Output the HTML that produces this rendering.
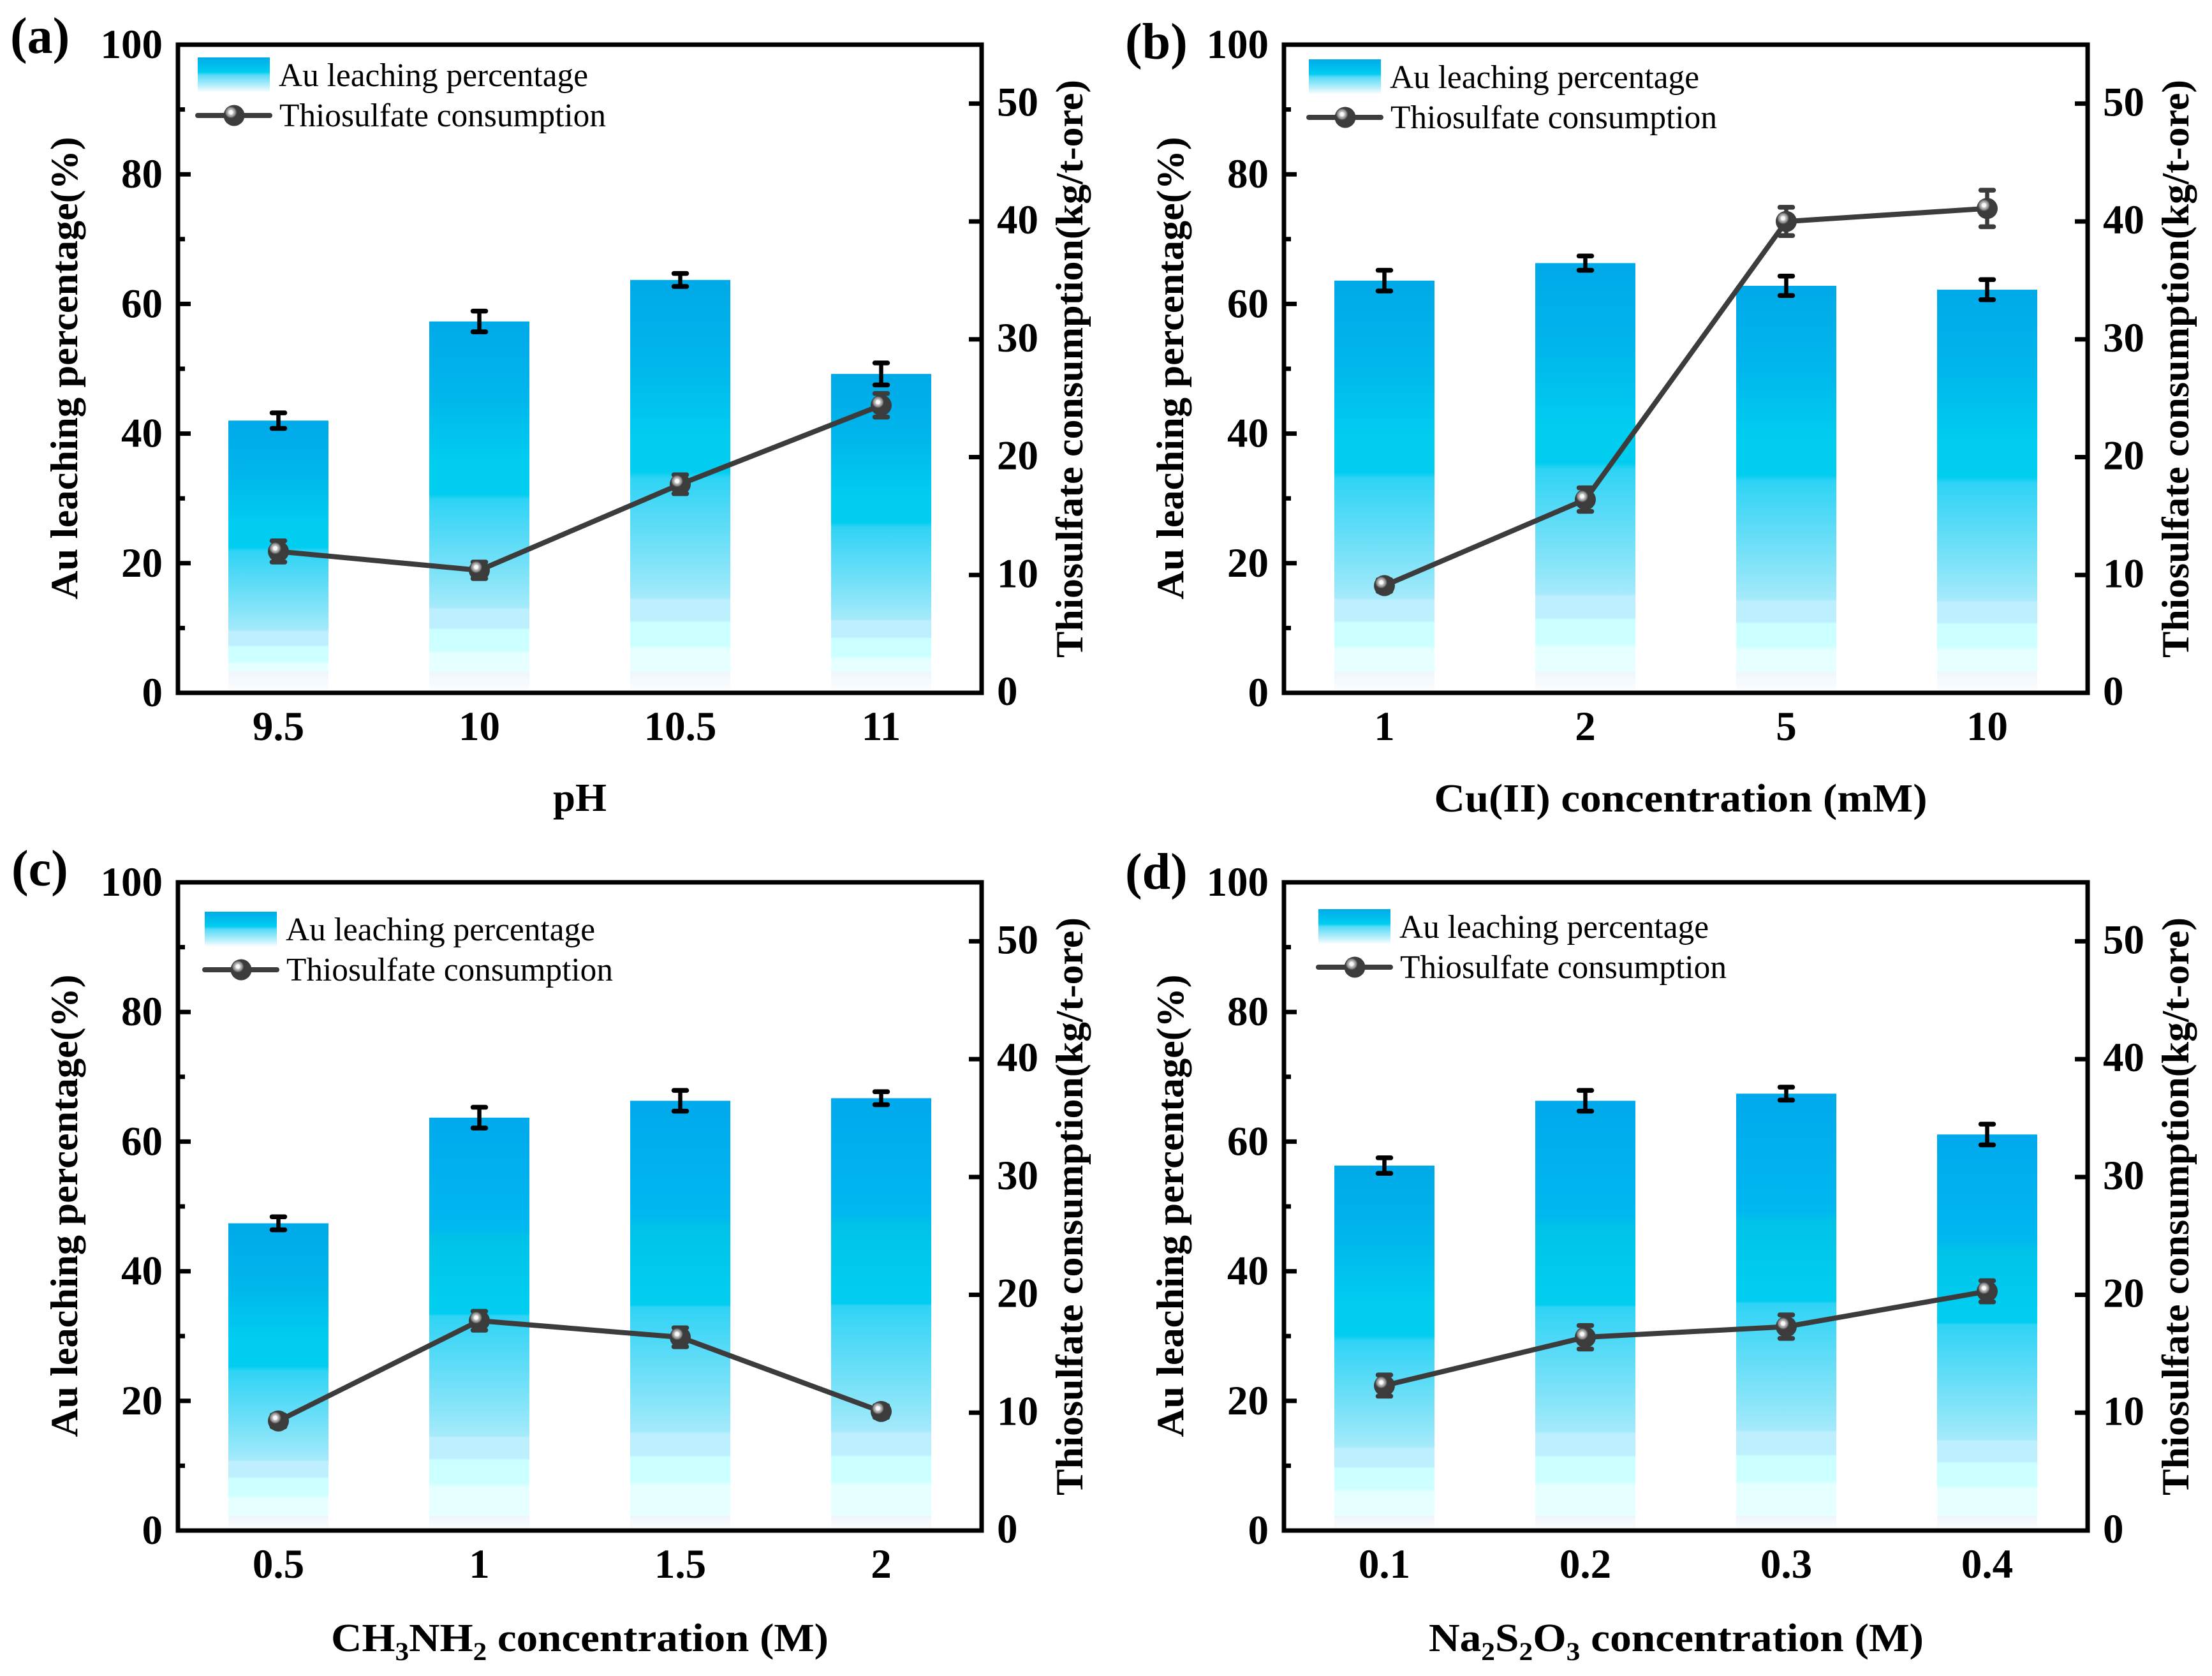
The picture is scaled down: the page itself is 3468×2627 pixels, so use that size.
<!DOCTYPE html>
<html lang="en">
<head>
<meta charset="utf-8">
<title>Au leaching and thiosulfate consumption</title>
<style>
html,body{margin:0;padding:0;background:#fff;}
body{width:3468px;height:2627px;overflow:hidden;}
svg{display:block;}
text{font-family:"Liberation Serif",serif;fill:#000;}
.b{font-weight:bold;}
</style>
</head>
<body>
<svg id="figure" xmlns="http://www.w3.org/2000/svg" width="3468" height="2627" viewBox="0 0 3468 2627">
<defs id="defs">
<linearGradient id="swatchGrad" x1="0" y1="0" x2="0" y2="1">
<stop offset="0" stop-color="#00ABE9"/><stop offset="0.42" stop-color="#00CDF0"/><stop offset="0.5" stop-color="#55DAF6"/><stop offset="0.8" stop-color="#B5EEFB"/><stop offset="1" stop-color="#FFFFFF"/>
</linearGradient>
<radialGradient id="markerGlow" cx="0.5" cy="0.5" r="0.5">
<stop offset="0" stop-color="#FFFFFF"/><stop offset="0.35" stop-color="#F0F0F0"/><stop offset="0.45" stop-color="#BDBDBD"/><stop offset="0.7" stop-color="#999999"/><stop offset="1" stop-color="#3C3C3C"/>
</radialGradient>
</defs>
</svg>
<script>
// Panel (a)
const phCategories = ['9.5', '10', '10.5', '11'];
const phLeaching = [42.0, 57.3, 63.7, 49.2];
const phLeachingErr = [1.2, 1.6, 1.0, 1.7];
const phConsumption = [12.0, 10.4, 17.7, 24.4];
const phConsumptionErr = [0.9, 0.7, 0.8, 1.0];
// Panel (b)
const cuCategories = ['1', '2', '5', '10'];
const cuLeaching = [63.6, 66.3, 62.8, 62.2];
const cuLeachingErr = [1.6, 1.1, 1.5, 1.55];
const cuConsumption = [9.1, 16.4, 40.0, 41.1];
const cuConsumptionErr = [0.5, 1.0, 1.2, 1.55];
// Panel (c)
const amineCategories = ['0.5', '1', '1.5', '2'];
const amineLeaching = [47.4, 63.7, 66.3, 66.7];
const amineLeachingErr = [1.0, 1.6, 1.6, 1.0];
const amineConsumption = [9.3, 17.8, 16.4, 10.1];
const amineConsumptionErr = [0.5, 0.8, 0.8, 0.5];
// Panel (d)
const thioCategories = ['0.1', '0.2', '0.3', '0.4'];
const thioLeaching = [56.3, 66.3, 67.4, 61.1];
const thioLeachingErr = [1.2, 1.6, 1.0, 1.6];
const thioConsumption = [12.3, 16.4, 17.3, 20.3];
const thioConsumptionErr = [0.9, 1.0, 1.0, 0.9];
// Shared axes
const leftTicks = [0, 20, 40, 60, 80, 100];
const leftMinorTicks = [10, 30, 50, 70, 90];
const rightTicks = [0, 10, 20, 30, 40, 50];
const leftAxisMax = 100;
const rightAxisMax = 55;

const NS = 'http://www.w3.org/2000/svg';
const PLOT_W = 1260, PLOT_H = 1016, BAR_W = 157;
const DARK = '#3C3C3C';
const svg = document.getElementById('figure');
const defs = document.getElementById('defs');

function make(parent, tag, attrs, text) {
  const el = document.createElementNS(NS, tag);
  for (const k in attrs) el.setAttribute(k, attrs[k]);
  if (text !== undefined) el.textContent = text;
  parent.appendChild(el);
  return el;
}

function barGradient(id, h, paleHeight, stepped) {
  const pale = 1 - paleHeight / h;
  const g = make(defs, 'linearGradient', {id: id, x1: 0, y1: 0, x2: 0, y2: 1});
  const upper = stepped
    ? [[0, '#00A9EC'], [0.27, '#00B8F0'], [0.29, '#00C2E8'], [0.44, '#00CDF0'], [0.475, '#00CDF0']]
    : [[0, '#00A9E8'], [0.2, '#00B6EC'], [0.38, '#00CDF0'], [0.465, '#00CDF0']];
  const stops = upper.concat([
    [0.48, '#2FD3F5'], [0.60, '#5FDCF7'], [0.72, '#8FE6F9'], [0.77, '#A5EAFB'],
    [0.775, '#BDEFFF'], [0.825, '#BDEFFF'],
    [0.83, '#CCFFFF'], [0.885, '#CCFFFF'], [0.895, '#E6FFFF'],
    [pale, '#E6FFFF'], [pale, '#EEF6FC'], [1, '#FDFEFF']
  ]);
  stops.forEach(function (s) {
    make(g, 'stop', {offset: s[0], 'stop-color': s[1]});
  });
}

function drawErr(parent, x, yLow, yHigh, color) {
  const g = make(parent, 'g', {stroke: color, 'stroke-linecap': 'round', fill: 'none'});
  make(g, 'line', {x1: x, x2: x, y1: yLow, y2: yHigh, 'stroke-width': 6.5});
  make(g, 'line', {x1: x - 10, x2: x + 10, y1: yLow, y2: yLow, 'stroke-width': 7.5});
  make(g, 'line', {x1: x - 10, x2: x + 10, y1: yHigh, y2: yHigh, 'stroke-width': 7.5});
  return g;
}

function drawMarker(parent, x, y) {
  const g = make(parent, 'g', {});
  make(g, 'circle', {cx: x, cy: y, r: 16.5, fill: DARK});
  make(g, 'circle', {cx: x - 5, cy: y - 5, r: 9.5, fill: 'url(#markerGlow)'});
  return g;
}

function drawPanel(p) {
  const g = make(svg, 'g', {});
  
  
  const left = p.left, top = p.top, right = left + PLOT_W, bottom = top + PLOT_H;
  const xAt = function (i) { return left + (i + 0.5) * PLOT_W / p.categories.length; };
  const yL = function (v) { return bottom - v / leftAxisMax * PLOT_H; };
  const yR = function (v) { return bottom - v / rightAxisMax * PLOT_H; };

  // bars
  p.leaching.forEach(function (v, i) {
    const h = bottom - yL(v);
    const gid = 'bar-grad-' + p.id + '-' + i;
    barGradient(gid, h, p.paleHeight, p.stepTall && v > 60);
    const bar = make(g, 'rect', {x: xAt(i) - BAR_W / 2, y: yL(v), width: BAR_W, height: h, fill: 'url(#' + gid + ')'});
    
    
  });
  // bar error bars
  p.leaching.forEach(function (v, i) {
    const e = drawErr(g, xAt(i), yL(v - p.leachingErr[i]), yL(v + p.leachingErr[i]), '#000');
    
    
  });
  // line error bars
  p.consumption.forEach(function (v, i) {
    const e = drawErr(g, xAt(i), yR(v - p.consumptionErr[i]), yR(v + p.consumptionErr[i]), DARK);
    
    
  });
  // line
  const pts = p.consumption.map(function (v, i) { return xAt(i) + ',' + yR(v); }).join(' ');
  const line = make(g, 'polyline', {points: pts, fill: 'none', stroke: DARK, 'stroke-width': 8, 'stroke-linejoin': 'round'});
  
  
  // markers
  p.consumption.forEach(function (v, i) {
    const m = drawMarker(g, xAt(i), yR(v));
    
    
  });

  // frame
  const frame = make(g, 'rect', {x: left, y: top, width: PLOT_W, height: PLOT_H, fill: 'none', stroke: '#000', 'stroke-width': 7});
  
  

  // left ticks
  leftTicks.forEach(function (v) {
    if (v !== 0 && v !== leftAxisMax) {
      const t = make(g, 'line', {x1: left, x2: left + 20, y1: yL(v), y2: yL(v), stroke: '#000', 'stroke-width': 7});
      
      
    }
    const lab = make(g, 'text', {x: left - 24, y: yL(v) + 21, 'text-anchor': 'end', 'font-size': 65, class: 'b'}, String(v));
    
    
  });
  leftMinorTicks.forEach(function (v) {
    const t = make(g, 'line', {x1: left, x2: left + 11, y1: yL(v), y2: yL(v), stroke: '#000', 'stroke-width': 7});
    
    
  });
  // right ticks
  rightTicks.forEach(function (v) {
    if (v !== 0) {
      const t = make(g, 'line', {x1: right, x2: right - 20, y1: yR(v), y2: yR(v), stroke: '#000', 'stroke-width': 7});
      
      
    }
    const lab = make(g, 'text', {x: right + 24, y: yR(v) + 19, 'font-size': 65, class: 'b'}, String(v));
    
    
  });
  // x labels
  p.categories.forEach(function (c, i) {
    const lab = make(g, 'text', {x: xAt(i), y: bottom + 74, 'text-anchor': 'middle', 'font-size': 65, class: 'b'}, c);
    
    
  });

  // axis titles
  const ly = make(g, 'text', {x: left - 158, y: top + 507, transform: 'rotate(-90 ' + (left - 158) + ' ' + (top + 507) + ')', 'text-anchor': 'middle', 'font-size': 60, class: 'b', textLength: 725, lengthAdjust: 'spacingAndGlyphs'}, 'Au leaching percentage(%)');
  
  
  const ry = make(g, 'text', {x: left + 1418, y: top + 508, transform: 'rotate(-90 ' + (left + 1418) + ' ' + (top + 508) + ')', 'text-anchor': 'middle', 'font-size': 60, class: 'b', textLength: 906, lengthAdjust: 'spacingAndGlyphs'}, 'Thiosulfate consumption(kg/t-ore)');
  
  

  const xt = make(g, 'text', {x: left + p.xTitleOffset, y: bottom + p.xTitleDrop, 'text-anchor': 'middle', 'font-size': 62, class: 'b', textLength: p.xTitleWidth, lengthAdjust: 'spacingAndGlyphs'});
  
  
  p.xTitle.forEach(function (part) {
    if (part[1]) {
      make(xt, 'tspan', {dy: 14, 'font-size': 40}, part[0]);
      make(xt, 'tspan', {dy: -14, 'font-size': 62}, '\u200b');
    } else {
      make(xt, 'tspan', {}, part[0]);
    }
  });

  // panel label
  const pl = make(g, 'text', {x: p.labelX, y: p.labelY, 'font-size': 80, class: 'b'}, '(' + p.id + ')');
  
  

  // legend
  const lg = make(g, 'g', {});
  
  
  const sw = make(lg, 'rect', {x: p.legendX, y: p.legendY, width: 113, height: 55, fill: 'url(#swatchGrad)'});
  
  
  const t1 = make(lg, 'text', {x: p.legendX + 127, y: p.legendY + 45, 'font-size': 52, textLength: 485, lengthAdjust: 'spacingAndGlyphs'}, 'Au leaching percentage');
  
  
  const ll = make(lg, 'line', {x1: p.legendX, x2: p.legendX + 113, y1: p.legendY + 91, y2: p.legendY + 91, stroke: DARK, 'stroke-width': 8, 'stroke-linecap': 'round'});
  
  
  const lm = drawMarker(lg, p.legendX + 57, p.legendY + 91);
  
  
  const t2 = make(lg, 'text', {x: p.legendX + 128, y: p.legendY + 108, 'font-size': 52, textLength: 512, lengthAdjust: 'spacingAndGlyphs'}, 'Thiosulfate consumption');
  
  
}

drawPanel({id: 'a', left: 279, top: 70, labelX: 16, labelY: 83, legendX: 310, legendY: 90, paleHeight: 33, stepTall: false,
  categories: phCategories, leaching: phLeaching, leachingErr: phLeachingErr,
  consumption: phConsumption, consumptionErr: phConsumptionErr,
  xTitle: [['pH']], xTitleWidth: 84, xTitleOffset: 630, xTitleDrop: 185});
drawPanel({id: 'b', left: 2013, top: 70, labelX: 1764, labelY: 92, legendX: 2052, legendY: 93, paleHeight: 33, stepTall: false,
  categories: cuCategories, leaching: cuLeaching, leachingErr: cuLeachingErr,
  consumption: cuConsumption, consumptionErr: cuConsumptionErr,
  xTitle: [['Cu(II) concentration (mM)']], xTitleWidth: 773, xTitleOffset: 622, xTitleDrop: 186});
drawPanel({id: 'c', left: 279, top: 1383, labelX: 18, labelY: 1388, legendX: 321, legendY: 1429, paleHeight: 23, stepTall: true,
  categories: amineCategories, leaching: amineLeaching, leachingErr: amineLeachingErr,
  consumption: amineConsumption, consumptionErr: amineConsumptionErr,
  xTitle: [['CH'], ['3', true], ['NH'], ['2', true], [' concentration (M)']], xTitleWidth: 780, xTitleOffset: 630, xTitleDrop: 189});
drawPanel({id: 'd', left: 2013, top: 1383, labelX: 1764, labelY: 1393, legendX: 2067, legendY: 1425, paleHeight: 23, stepTall: true,
  categories: thioCategories, leaching: thioLeaching, leachingErr: thioLeachingErr,
  consumption: thioConsumption, consumptionErr: thioConsumptionErr,
  xTitle: [['Na'], ['2', true], ['S'], ['2', true], ['O'], ['3', true], [' concentration (M)']], xTitleWidth: 776, xTitleOffset: 615, xTitleDrop: 189});
</script>
</body>
</html>
